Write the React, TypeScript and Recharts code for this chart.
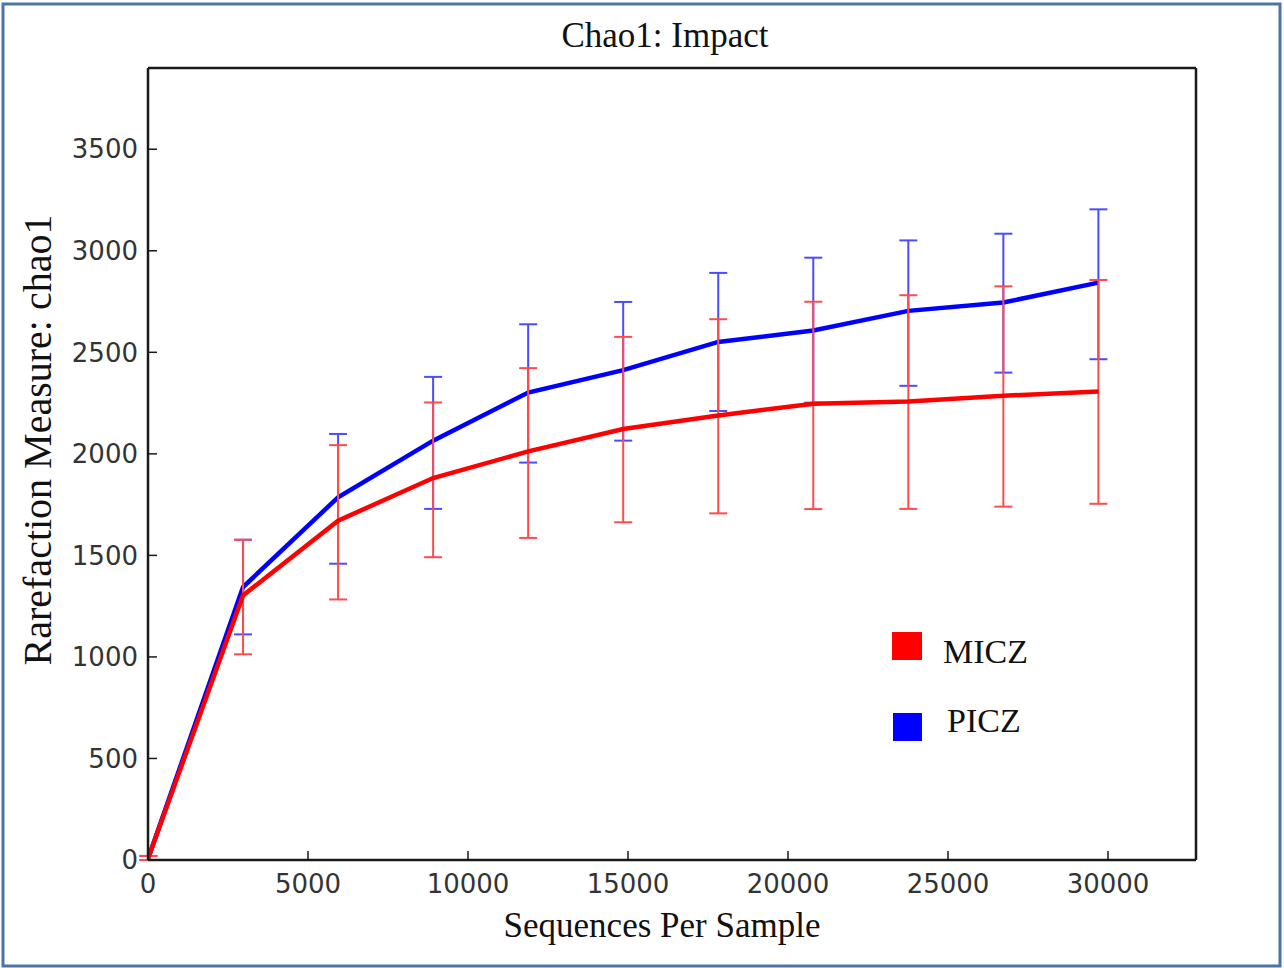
import React from 'react';
import { LineChart, Line, XAxis, YAxis, ErrorBar } from 'recharts';

// Sequences per sample (rarefaction depths)
const depths = [10, 2970, 5940, 8910, 11880, 14850, 17820, 20790, 23760, 26730, 29700];

// MICZ (red)
const miczMean = [10, 1303, 1671, 1881, 2012, 2122, 2189, 2247, 2258, 2286, 2307];
const miczLow = [0, 1013, 1283, 1491, 1586, 1663, 1707, 1728, 1729, 1740, 1754];
const miczHigh = [20, 1577, 2043, 2253, 2422, 2576, 2663, 2749, 2781, 2825, 2856];

// PICZ (blue)
const piczMean = [10, 1344, 1786, 2065, 2302, 2412, 2551, 2607, 2704, 2745, 2843];
const piczLow = [0, 1111, 1459, 1729, 1957, 2065, 2211, 2252, 2335, 2400, 2466];
const piczHigh = [20, 1577, 2098, 2379, 2638, 2748, 2891, 2966, 3051, 3084, 3204];

const xTicks = [0, 5000, 10000, 15000, 20000, 25000, 30000];
const yTicks = [0, 500, 1000, 1500, 2000, 2500, 3000, 3500];

const title = 'Chao1: Impact';
const xLabel = 'Sequences Per Sample';
const yLabel = 'Rarefaction Measure: chao1';
const seriesNames = ['MICZ', 'PICZ'];

const data = depths.map((d, i) => ({
  depth: d,
  micz: miczMean[i],
  miczErr: [miczMean[i] - miczLow[i], miczHigh[i] - miczMean[i]],
  picz: piczMean[i],
  piczErr: [piczMean[i] - piczLow[i], piczHigh[i] - piczMean[i]],
}));

const tickFont = { fontFamily: 'DejaVu Sans', fontSize: 26, fill: '#333' };
const axisLine = { stroke: '#1a1a1a', strokeWidth: 2.5 };
const tickLine = { stroke: '#1a1a1a', strokeWidth: 1.5 };
const serif = '"Liberation Serif", "Times New Roman", serif';

export default function App() {
  return (
    <div style={{ position: 'absolute', left: 0, top: 0, width: 1284, height: 968, background: '#fff' }}>
      <LineChart
        width={1284}
        height={968}
        data={data}
        margin={{ top: 67, right: 87, bottom: 48, left: 68 }}
      >
        <XAxis
          xAxisId="bottom"
          dataKey="depth"
          type="number"
          domain={[0, 32750]}
          ticks={xTicks}
          allowDataOverflow
          height={60}
          tickSize={-9}
          tickMargin={24}
          axisLine={axisLine}
          tickLine={tickLine}
          tick={tickFont}
          interval={0}
        />
        <XAxis
          xAxisId="top"
          orientation="top"
          dataKey="depth"
          type="number"
          domain={[0, 32750]}
          ticks={xTicks}
          allowDataOverflow
          height={1}
          tickSize={-9}
          axisLine={axisLine}
          tickLine={tickLine}
          tick={false}
          interval={0}
        />
        <YAxis
          yAxisId="left"
          type="number"
          domain={[0, 3900]}
          ticks={yTicks}
          allowDataOverflow
          width={80}
          tickSize={-9}
          tickMargin={19}
          axisLine={axisLine}
          tickLine={tickLine}
          tick={tickFont}
          interval={0}
        />
        <YAxis
          yAxisId="right"
          orientation="right"
          type="number"
          domain={[0, 3900]}
          ticks={yTicks}
          allowDataOverflow
          width={1}
          tickSize={-9}
          axisLine={axisLine}
          tickLine={tickLine}
          tick={false}
          interval={0}
        />
        <Line
          xAxisId="bottom"
          yAxisId="left"
          dataKey="picz"
          type="linear"
          stroke="#0000ff"
          strokeWidth={4.5}
          dot={false}
          isAnimationActive={false}
        >
          <ErrorBar dataKey="piczErr" direction="y" width={9} stroke="#4b4bff" strokeWidth={2} isAnimationActive={false} />
        </Line>
        <Line
          xAxisId="bottom"
          yAxisId="left"
          dataKey="micz"
          type="linear"
          stroke="#ff0000"
          strokeWidth={4.5}
          dot={false}
          isAnimationActive={false}
        >
          <ErrorBar dataKey="miczErr" direction="y" width={9} stroke="#ff4b4b" strokeWidth={2} isAnimationActive={false} />
        </Line>
      </LineChart>
      <svg
        width={1284}
        height={968}
        style={{ position: 'absolute', left: 0, top: 0, pointerEvents: 'none' }}
      >
        <rect x={3} y={4} width={1277} height={962} fill="none" stroke="#4e74a6" strokeWidth={3} />
        <text x={665} y={47} textAnchor="middle" fontFamily={serif} fontSize={35} fill="#111">{title}</text>
        <text x={662} y={937} textAnchor="middle" fontFamily={serif} fontSize={35} fill="#111">{xLabel}</text>
        <text
          x={51}
          y={440}
          textAnchor="middle"
          fontFamily={serif}
          fontSize={40}
          fill="#111"
          transform="rotate(-90 51 440)"
        >
          {yLabel}
        </text>
        <rect x={892} y={632} width={30} height={28} fill="#ff0000" />
        <text x={943} y={663} fontFamily={serif} fontSize={34} fill="#111">{seriesNames[0]}</text>
        <rect x={893} y={713} width={29} height={28} fill="#0000ff" />
        <text x={947} y={732} fontFamily={serif} fontSize={34} fill="#111">{seriesNames[1]}</text>
      </svg>
    </div>
  );
}
